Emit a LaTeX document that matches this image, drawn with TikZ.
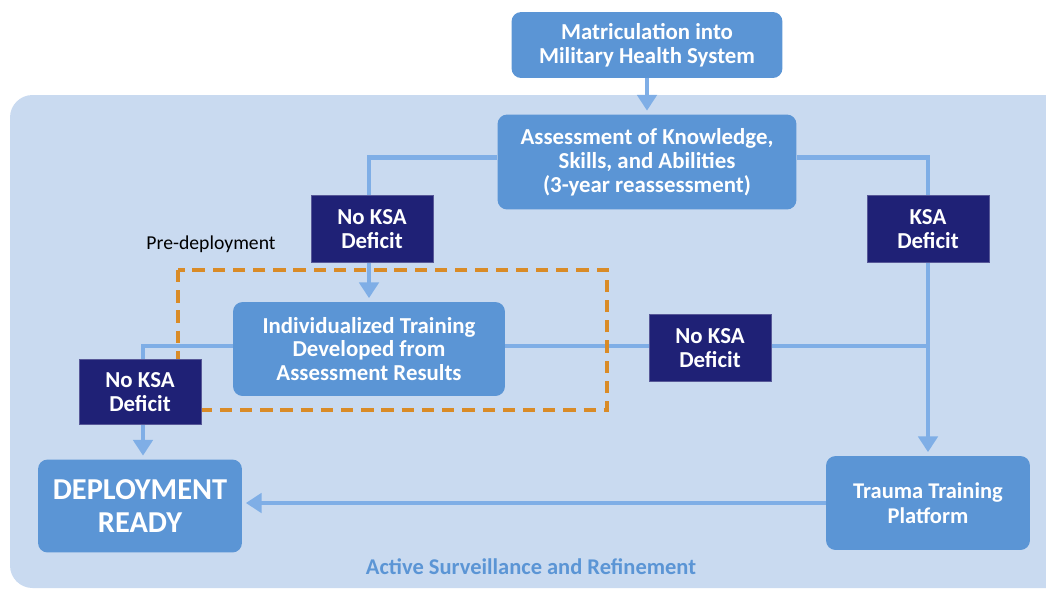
\documentclass[tikz,border=0pt]{standalone}
\usepackage{fontspec}
\setmainfont{Carlito}
\usetikzlibrary{positioning,arrows.meta}
\definecolor{panel}{HTML}{C9DAF0}
\definecolor{boxblue}{HTML}{5B95D5}
\definecolor{navy}{HTML}{1F2176}
\definecolor{flow}{HTML}{7FAEE6}
\definecolor{predep}{HTML}{D98B27}

\begin{document}
\begin{tikzpicture}[x=0.02cm, y=-0.02cm
  ]
% Styles for boxes and links
\tikzstyle{stage}=[fill=boxblue, rounded corners=5.5pt, text=white, align=center, inner sep=0pt, font=\bfseries\fontsize{13}{13.6}\selectfont]
\tikzstyle{verdict}=[fill=navy, draw=navy!75!white, line width=.5pt, text=white, align=center, inner sep=0pt, minimum width=2.44cm, minimum height=1.34cm, font=\bfseries\fontsize{13}{13.6}\selectfont]
\tikzstyle{link}=[draw=flow, line width=2.3pt]
\tikzstyle{linkarrow}=[link, -{Triangle[width=11pt,length=9pt]}, shorten >=2pt]

\useasboundingbox (0,0) rectangle (1046,589);
% Background panel
\fill[panel, rounded corners=.45cm] (10,95) rectangle (1090,588);

% Blocks
\node[stage, minimum width=5.42cm, minimum height=1.32cm] (matric) at (647,45) {Matriculation into\\Military Health System};
\node[stage, minimum width=5.98cm, minimum height=1.9cm] (assess) at (647,162) {Assessment of Knowledge,\\Skills, and Abilities\\(3-year reassessment)};
\node[stage, minimum width=5.44cm, minimum height=1.88cm] (indiv) at (369,349) {Individualized Training\\Developed from\\Assessment Results};
\node[stage, minimum width=4.08cm, minimum height=1.86cm, font=\bfseries\fontsize{17.3}{18.7}\selectfont] (deploy) at (140,506) {DEPLOYMENT\\READY};
\node[stage, minimum width=4.08cm, minimum height=1.88cm, font=\bfseries\fontsize{12.8}{14}\selectfont] (trauma) at (928,503) {Trauma Training\\Platform};

% Links
\draw[linkarrow] (matric.south) -- (assess.north);
\draw[linkarrow] ([yshift=.09cm]assess.west) -| (indiv.north);
\draw[linkarrow] ([yshift=.09cm]assess.east) -| (trauma.north);
\draw[link] ([yshift=.06cm]indiv.east) -- ([yshift=.06cm]indiv.east -| trauma.north);
\draw[linkarrow] ([yshift=.06cm]indiv.west) -| ([xshift=.06cm]deploy.north);
\draw[linkarrow] (trauma.west) -- (trauma.west -| deploy.east);

% Pre-deployment frame
\draw[predep, line width=2.3pt, dash pattern=on 7pt off 4.5pt] (178,270) rectangle (607,410);
\node[font=\fontsize{11.2}{14}\selectfont] (predeplabel) at (211,244) {Pre-deployment};

% Outcome labels
\node[verdict] (nodef1) at (372,229) {No KSA\\Deficit};
\node[verdict] (def) at (928,229) {KSA\\Deficit};
\node[verdict] (nodef2) at (710,348) {No KSA\\Deficit};
\node[verdict, minimum height=1.3cm] (nodef3) at (140,392) {No KSA\\Deficit};

\node[text=boxblue, font=\bfseries\fontsize{12.8}{14}\selectfont] (surveil) at (531,567) {Active Surveillance and Refinement};
%---------------------
\end{tikzpicture}
\end{document}
